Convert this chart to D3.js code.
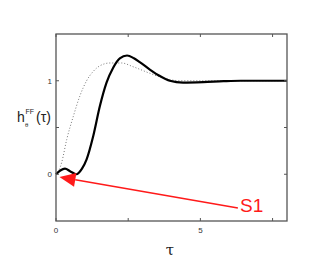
<!DOCTYPE html>
<html>
<head>
<meta charset="utf-8">
<script src="https://cdn.jsdelivr.net/npm/d3@7"></script>
<style>
    body { margin: 0; background: #fff; }
    svg { display: block; font-family: "Liberation Sans", Arial, sans-serif; }
</style>
</head>
<body>
<svg id="chart" width="321" height="277"></svg>
<script>
    // solid curve (h_theta^FF)
    let solidTau = [0, 0.15, 0.31, 0.5, 0.71, 0.9, 1.06, 1.29, 1.52, 1.75, 1.98, 2.21, 2.46, 2.7, 2.9, 3.25, 3.6, 3.94, 4.4, 5.1, 5.8, 6.4, 7, 8];
    let solidH = [0, 0.04, 0.06, 0.03, 0.0, 0.06, 0.16, 0.41, 0.73, 0.98, 1.14, 1.24, 1.27, 1.24, 1.2, 1.12, 1.05, 1.0, 0.98, 0.985, 0.995, 1.0, 1.0, 1.0];

    // dotted curve
    let dotTau = [0, 0.1, 0.2, 0.37, 0.6, 0.83, 1.06, 1.29, 1.52, 1.87, 2.27, 2.67, 3.25, 3.83, 4.3, 4.86, 5.5, 8];
    let dotH = [0, 0.04, 0.13, 0.37, 0.62, 0.84, 1.0, 1.1, 1.16, 1.19, 1.19, 1.15, 1.08, 1.02, 1.0, 1.0, 1.0, 1.0];

    let xTicks = [0, 2.5, 5, 7.5];
    let xTickLabels = ["0", "", "5", ""];
    let yTicks = [0, 0.5, 1];
    let yTickLabels = ["0", "", "1"];

    // arrow S1: from label to the start of the curve
    let arrowFrom = [6.3, -0.36];
    let arrowTo = [0.12, -0.03];

    let svg = d3.select("#chart");
    let mLeft = 56, mTop = 34, mRight = 287, mBottom = 221;

    let x = d3.scaleLinear().domain([0, 8]).range([mLeft, mRight]);
    let y = d3.scaleLinear().domain([-0.5, 1.5]).range([mBottom, mTop]);

    let axisColor = "#555";

    let line = d3.line().x(d => x(d[0])).y(d => y(d[1])).curve(d3.curveMonotoneX);

    svg.append("path")
        .datum(d3.zip(dotTau, dotH))
        .attr("d", line)
        .attr("fill", "none")
        .attr("stroke", "#777")
        .attr("stroke-width", 1)
        .attr("stroke-dasharray", "1,2");

    svg.append("path")
        .datum(d3.zip(solidTau, solidH))
        .attr("d", line)
        .attr("fill", "none")
        .attr("stroke", "#000")
        .attr("stroke-width", 2.2);

    // frame
    svg.append("rect")
        .attr("x", mLeft).attr("y", mTop)
        .attr("width", mRight - mLeft).attr("height", mBottom - mTop)
        .attr("fill", "none")
        .attr("stroke", axisColor)
        .attr("stroke-width", 1.3);

    let tickLen = 3;
    let ax = svg.append("g").attr("stroke", axisColor).attr("stroke-width", 1);
    xTicks.forEach(t => {
        ax.append("line").attr("x1", x(t)).attr("x2", x(t)).attr("y1", mBottom).attr("y2", mBottom - tickLen);
        ax.append("line").attr("x1", x(t)).attr("x2", x(t)).attr("y1", mTop).attr("y2", mTop + tickLen);
    });
    yTicks.forEach(t => {
        ax.append("line").attr("x1", mLeft).attr("x2", mLeft + tickLen).attr("y1", y(t)).attr("y2", y(t));
        ax.append("line").attr("x1", mRight).attr("x2", mRight - tickLen).attr("y1", y(t)).attr("y2", y(t));
    });

    svg.selectAll(".xl")
        .data(xTicks.map((t, i) => [t, xTickLabels[i]]).filter(d => d[1] !== ""))
        .enter().append("text")
        .attr("x", d => x(d[0]))
        .attr("y", mBottom + 12)
        .attr("text-anchor", "middle")
        .attr("font-size", 8)
        .attr("fill", "#333")
        .text(d => d[1]);

    svg.selectAll(".yl")
        .data(yTicks.map((t, i) => [t, yTickLabels[i]]).filter(d => d[1] !== ""))
        .enter().append("text")
        .attr("x", mLeft - 4)
        .attr("y", d => y(d[0]) + 3)
        .attr("text-anchor", "end")
        .attr("font-size", 8)
        .attr("fill", "#333")
        .text(d => d[1]);

    // axis titles
    svg.append("text")
        .attr("x", 170).attr("y", 255)
        .attr("text-anchor", "middle")
        .attr("font-size", 15)
        .attr("font-family", "'DejaVu Serif', serif")
        .attr("fill", "#222")
        .text("τ");

    let yl = svg.append("g").attr("fill", "#222");
    yl.append("text").attr("x", 17).attr("y", 122).attr("font-size", 14).text("h");
    yl.append("text").attr("x", 25.5).attr("y", 114).attr("font-size", 7).text("FF");
    yl.append("text").attr("x", 25).attr("y", 127).attr("font-size", 6).text("θ");
    yl.append("text").attr("x", 36).attr("y", 122).attr("font-size", 14).text("(τ)");

    // red arrow
    let red = "#ff1a1a";
    let p0 = [x(arrowFrom[0]), y(arrowFrom[1])];
    let p1 = [x(arrowTo[0]), y(arrowTo[1])];
    let ang = Math.atan2(p1[1] - p0[1], p1[0] - p0[0]);
    let headLen = 16, headW = 7;
    let bx = p1[0] - headLen * Math.cos(ang), by = p1[1] - headLen * Math.sin(ang);
    svg.append("line")
        .attr("x1", p0[0]).attr("y1", p0[1])
        .attr("x2", bx).attr("y2", by)
        .attr("stroke", red).attr("stroke-width", 1.5);
    svg.append("path")
        .attr("d", d3.line()([
            p1,
            [bx + headW * Math.sin(ang), by - headW * Math.cos(ang)],
            [bx - headW * Math.sin(ang), by + headW * Math.cos(ang)]
        ]) + "Z")
        .attr("fill", red);

    svg.append("text")
        .attr("x", 240).attr("y", 212)
        .attr("font-size", 19)
        .attr("fill", red)
        .text("S1");
</script>
</body>
</html>
